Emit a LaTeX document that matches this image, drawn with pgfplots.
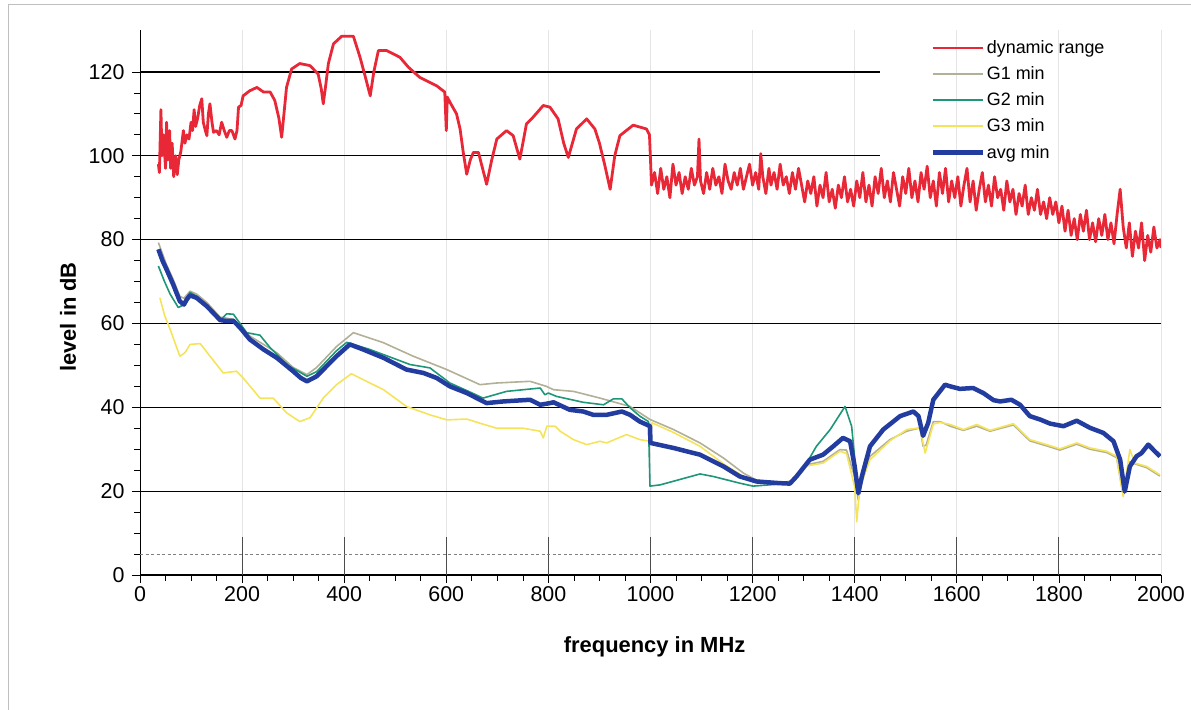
\documentclass[border=0pt]{standalone}
\usepackage{fontspec}
\setmainfont{Liberation Sans}
\usepackage{pgfplots}
\pgfplotsset{compat=1.18}
\definecolor{cRed}{RGB}{232,40,55}
\definecolor{cG1}{RGB}{178,176,150}
\definecolor{cG2}{RGB}{30,150,120}
\definecolor{cG3}{RGB}{245,228,90}
\definecolor{cAvg}{RGB}{35,60,160}
\begin{document}
\begin{tikzpicture}
\path[use as bounding box] (0,0) rectangle (1191bp,710bp);
\draw[black!25, line width=0.8bp] (8bp,0bp) -- (8bp,706bp) -- (1191bp,706bp);
\begin{axis}[
  at={(140bp,135bp)}, anchor=south west,
  scale only axis, width=1021bp, height=545bp,
  xmin=0, xmax=2000, ymin=0, ymax=130,
  axis x line*=bottom, axis y line*=left,
  axis line style={black, -},
  x axis line style={line width=1.6bp},
  y axis line style={line width=0.8bp},
  xtick={0,200,...,2000}, ytick={0,20,...,120},
  minor x tick num=3, minor y tick num=3,
  tick align=outside,
  major tick length=8bp, minor tick length=6bp,
  tick style={black, line width=0.7bp},
  xmajorgrids, grid style={black!10, line width=0.8bp},
  /pgf/number format/assume math mode=true,
  /pgf/number format/1000 sep={},
  tick label style={font=\fontsize{21.5}{21.5}\selectfont},
  yticklabel style={xshift=-4bp},
  xlabel={\textbf{frequency in MHz}},
  ylabel={\textbf{level in dB}},
  label style={font=\fontsize{22}{22}\selectfont},
  xlabel style={at={(axis description cs:0.504,-0.132)}, anchor=center},
  ylabel style={at={(axis description cs:-0.0705,0.4734)}, anchor=center},
  legend style={at={(0.771,0.988)}, anchor=north west, draw=none, fill=none,
    font=\fontsize{18}{18}\selectfont, row sep=7.6bp},
  legend cell align=left,
  legend image code/.code={\draw (0bp,0bp) -- (50bp,0bp);},
]
% grid lines
\draw[black, line width=1.3bp] (axis cs:0,20) -- (axis cs:2000,20);
\draw[black, line width=1.3bp] (axis cs:0,40) -- (axis cs:2000,40);
\draw[black, line width=1.3bp] (axis cs:0,60) -- (axis cs:2000,60);
\draw[black, line width=1.3bp] (axis cs:0,80) -- (axis cs:2000,80);
\draw[black, line width=1.3bp] (axis cs:0,100) -- (axis cs:1450,100);
\draw[black, line width=1.3bp] (axis cs:0,120) -- (axis cs:1450,120);
\pgfplotsinvokeforeach{200,400,600,800,1000,1200,1400,1600,1800,2000}{
  \draw[black!70, line width=0.8bp] (axis cs:#1,0) -- (axis cs:#1,9);
}
\addplot[forget plot, black!50, line width=1bp, dash pattern=on 3bp off 2.5bp] coordinates {(0,5)(2000,5)};

% dynamic range
\addplot[cRed, line width=2.8bp, line join=round] coordinates {
(36,98)(38,96)(41,111)(43,100)(46,105)(50,97)(52,108)(55,99)(58,106)(60,97)(63,103)(66,95)(70,100)(73,95.5)(76,99)(80,101)(85,106)(88,103)(92,105)(96,104)(100,108)(103,106)(106,111)(109,107)(113,109)(117,112)(121,113.6)(124,108)(128,106)(131,104.8)(134,110)(137,112.4)(141,108)(144,105.6)(150,106)(155,105)(160,108)(165,106)(170,104.4)(175,106)(180,106)(186,104)(190,106)(193,111.6)(198,112)(202,114.3)(215,115.5)(229,116.3)(242,115.2)(255,115.2)(264,113.2)(272,109)(277.5,104.4)(282,110)(287,116.3)(297,120.7)(313,122)(333,121.5)(349,119.5)(355,116)(359,112.4)(364,117)(369,122)(379,126.7)(395,128.5)(418,128.5)(431,123.5)(441,119)(451,114.3)(458,120)(467,125.1)(483,125.1)(509,123.5)(526,121.1)(548,118.7)(581,116.7)(597,115.2)(600,106)(602,114)(607,112.8)(620,110)(627,106.4)(633,101)(640,95.6)(647,99)(653,100.8)(663,100.8)(671,97)(679,93.2)(689,99)(699,104)(718,106)(731,104.8)(744,99.2)(750,103)(757,107.6)(770,109.2)(790,112)(803,111.6)(819,108.8)(830,103)(839,99.6)(847,103)(855,106.4)(875,108.8)(891,106.4)(900,103)(910,98)(921,92)(930,100)(940,104.8)(966,107.3)(992,106.4)(998,105)
(1002,93)(1008,96)(1014,91)(1020,97)(1026,92)(1032,95)(1038,90)(1044,98)(1050,93)(1056,96)
(1062,91)(1068,95)(1074,92)(1080,97)(1086,93)(1092,95)(1095,104)(1098,94)(1104,91)(1110,96)(1116,92)
(1122,97)(1128,93)(1134,95)(1140,91)(1146,98)(1152,94)(1158,92)(1164,96)(1170,93)(1176,97)
(1182,92)(1188,95)(1194,98)(1200,93)(1206,96)(1212,92)(1216,100.5)(1220,95)(1226,91)(1232,97)(1236,93)
(1242,96)(1248,92)(1254,98)(1260,93)(1266,95)(1272,91)(1278,96)(1284,92)(1290,97)(1296,93)
(1302,89)(1308,94)(1314,91)(1320,95)(1326,88)(1332,93)(1338,90)(1344,96)(1350,89)(1356,92)
(1362,87.5)(1368,93)(1374,90)(1380,95)(1386,89)(1392,92)(1398,88)(1404,94)(1410,90)(1416,96)
(1422,89)(1428,93)(1434,88)(1440,95)(1446,91)(1452,97)(1458,90)(1464,94)(1470,89)(1476,96)
(1482,92)(1488,88)(1494,95)(1500,91)(1506,97)(1512,90)(1518,94)(1524,89)(1530,96)(1536,92)
(1542,97.5)(1548,90)(1554,94)(1560,88)(1566,96)(1572,91)(1578,97)(1584,89)(1590,94)(1596,90)
(1602,95)(1608,88)(1614,93)(1620,97)(1626,89)(1632,94)(1638,87)(1644,92)(1650,96)(1656,89)
(1662,93)(1668,88)(1674,95)(1680,90)(1686,92)(1692,87)(1698,94)(1704,89)(1710,92)(1716,86)
(1722,91)(1728,88)(1734,93)(1740,86)(1746,90)(1752,87)(1758,92)(1764,86)(1770,89)(1776,85)
(1782,90)(1788,86)(1794,89)(1800,84)(1806,88)(1812,82)(1818,87)(1824,81)(1830,85)(1836,80)
(1842,86)(1848,82)(1854,87)(1860,80)(1866,84)(1872,79.5)(1878,85)(1884,81)(1890,86)(1896,80)
(1902,84)(1908,79)(1914,86)(1920,92)(1926,83)(1932,78)(1938,84)(1944,76)(1950,82)(1956,78)
(1962,84)(1968,75)(1974,81)(1980,77)(1986,83)(1992,78)(1998,80)(2000,78)
};
\addlegendentry{dynamic range}

% G1 min
\addplot[cG1, line width=1.6bp, line join=round] coordinates {
(36,79.3)(52,74)(65,70.5)(78,66.5)(86,66)(98,67.7)(111,67)(131,65)(157,61.5)(183,61)(196,59.5)(215,57)(242,55)(268,53)(300,49.5)(327,47.8)(346,49.5)(385,54.5)(418,57.8)(477,55.4)(535,52.2)(601,49)(666,45.4)(699,45.8)(764,46.2)(796,45)(810,44.2)(849,43.8)(901,42.2)(960,40.2)(999,37.1)(1045,34.7)(1097,31.5)(1143,27.9)(1182,24.3)(1208,22.6)(1254,22)(1280,22.5)(1306,26.3)(1338,27.1)(1371,29.9)(1384,29.8)(1400,23.4)(1407,17.9)(1414,22)(1430,28.3)(1469,32.3)(1502,34.3)(1528,35.1)(1534,30.7)(1540,31)(1554,36.6)(1567,36.6)(1587,35.5)(1613,34.5)(1639,35.5)(1665,34.3)(1711,35.8)(1743,32)(1776,30.8)(1802,29.8)(1835,31.2)(1861,30)(1894,29.2)(1913,28)(1926,19)(1939,27)(1949,26.5)(1972,25.6)(1998,23.6)
};
\addlegendentry{G1 min}

% G2 min
\addplot[cG2, line width=1.6bp, line join=round] coordinates {
(36,73.7)(48,70)(59,67)(75,63.8)(86,64.5)(98,67.4)(111,66.5)(131,64.3)(157,60.8)(170,62.3)(183,62.2)(196,60)(209,57.8)(235,57.2)(255,54.2)(290,50)(327,47.4)(346,48.5)(385,53.5)(405,55.5)(450,53.8)(529,50.2)(568,49.4)(607,45.8)(640,44)(672,42.2)(718,43.8)(784,44.6)(793,43)(800,43.4)(816,42.6)(868,41.2)(908,40.6)(927,42)(944,42)(960,39.9)(979,37.9)(996,36.6)(999,21.2)(1019,21.5)(1097,24.1)(1123,23.5)(1175,21.9)(1201,21.2)(1254,21.7)(1280,22.3)(1306,26.7)(1325,30.7)(1352,34.7)(1381,40.2)(1394,35.5)(1404,22.7)(1407,19.5)(1414,23.5)(1430,30.7)(1456,34.7)(1489,37.9)(1515,39)(1525,37.9)(1534,33.2)(1544,36.3)(1554,41.8)(1577,45.4)(1587,45)(1606,44.4)(1632,44.6)(1652,43.4)(1672,41.7)(1685,41.4)(1707,41.8)(1724,40.6)(1743,37.9)(1763,37.1)(1783,36.1)(1809,35.5)(1835,36.8)(1861,35.1)(1887,33.9)(1907,31.9)(1920,27.5)(1929,19.9)(1939,25.9)(1952,28.3)(1962,29.1)(1975,31.1)(1988,29.5)(1998,28.3)
};
\addlegendentry{G2 min}

% G3 min
\addplot[cG3, line width=1.6bp, line join=round] coordinates {
(39,66.1)(48,62)(59,58.6)(78,52.2)(88,53)(98,55)(118,55.2)(137,52.2)(163,48.2)(189,48.6)(202,47)(235,42.2)(261,42.2)(287,38.7)(313,36.6)(333,37.5)(359,42.2)(385,45.4)(414,48)(437,46.6)(477,44.2)(522,40.2)(568,38.2)(601,37)(640,37.2)(666,36.2)(699,35)(751,35)(784,34.3)(790,32.7)(797,35.5)(813,35.5)(823,34.3)(849,32.3)(875,31.1)(901,31.9)(914,31.5)(953,33.5)(979,32.3)(999,31.9)(1003,36.3)(1045,34)(1097,30.7)(1143,26.5)(1182,23.5)(1208,22.2)(1254,21.8)(1280,22.3)(1306,26)(1338,26.7)(1371,29.5)(1384,29)(1400,21)(1404,12.7)(1410,21)(1430,27.5)(1469,32)(1502,34.7)(1528,35.1)(1538,29.1)(1554,36)(1567,36.4)(1587,35.9)(1613,34.7)(1639,35.9)(1665,34.5)(1711,36.1)(1743,32.3)(1776,31.1)(1802,30.1)(1835,31.5)(1861,30.3)(1894,29.5)(1913,28.3)(1926,18.7)(1939,29.9)(1949,26.7)(1972,25.9)(1998,23.9)
};
\addlegendentry{G3 min}

% avg min
\addplot[cAvg, line width=4.5bp, line join=round] coordinates {
(36,77.7)(44,75)(52,72.9)(65,69.3)(78,65.3)(86,64.5)(92,65.8)(98,66.7)(111,66.1)(131,64.1)(157,60.8)(170,60.6)(183,60.6)(196,59)(215,56.2)(242,53.8)(268,51.8)(300,48.6)(315,47)(327,46.2)(346,47.4)(385,52.2)(411,55)(437,53.8)(477,51.8)(522,49)(555,48.2)(581,47)(607,45)(640,43.4)(679,41)(712,41.4)(764,41.8)(784,40.6)(803,41)(810,41.2)(842,39.4)(868,39)(888,38.2)(914,38.2)(944,39)(960,38.2)(979,36.6)(999,35.5)(1000,31.5)(1045,30.3)(1097,28.7)(1143,25.9)(1175,23.5)(1208,22.3)(1254,21.9)(1273,21.8)(1286,23.5)(1312,27.5)(1338,28.7)(1358,30.7)(1377,32.7)(1391,31.9)(1400,25.9)(1407,19.5)(1414,23.5)(1430,30.7)(1456,34.7)(1489,37.9)(1515,39)(1525,37.9)(1534,33.2)(1544,36.3)(1554,41.8)(1577,45.4)(1587,45)(1606,44.4)(1632,44.6)(1652,43.4)(1672,41.7)(1685,41.4)(1707,41.8)(1724,40.6)(1743,37.9)(1763,37.1)(1783,36.1)(1809,35.5)(1835,36.8)(1861,35.1)(1887,33.9)(1907,31.9)(1920,27.5)(1929,19.9)(1939,25.9)(1952,28.3)(1962,29.1)(1975,31.1)(1988,29.5)(1998,28.3)
};
\addlegendentry{avg min}
\end{axis}
\end{tikzpicture}
\end{document}
